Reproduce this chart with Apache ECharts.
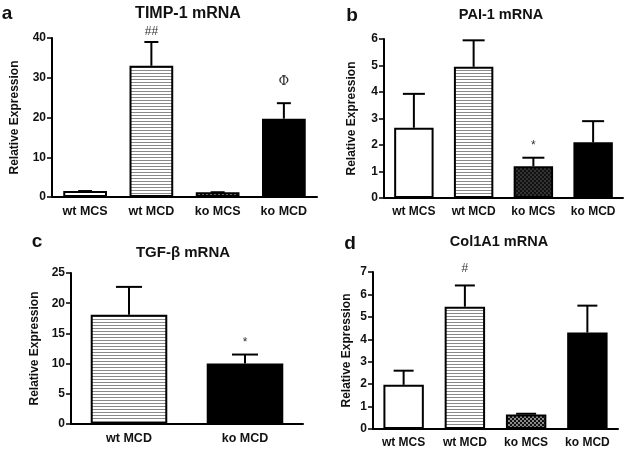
<!DOCTYPE html>
<html><head><meta charset="utf-8">
<script src="https://cdn.jsdelivr.net/npm/echarts@6/dist/echarts.min.js"></script>
<style>html,body{margin:0;padding:0;background:#fff}#c{width:629px;height:457px}</style>
</head><body><div id="c"></div>
<script>
// ---- data ----
var catsA = ['wt MCS', 'wt MCD', 'ko MCS', 'ko MCD'];
var valsA = [1.5, 33, 1.2, 19.7];
var errA  = [1.5, 39, 1.2, 23.6];
var noteA = ['', '##', '', 'Φ'];

var catsB = ['wt MCS', 'wt MCD', 'ko MCS', 'ko MCD'];
var valsB = [2.65, 4.95, 1.2, 2.1];
var errB  = [3.93, 5.95, 1.52, 2.9];
var noteB = ['', '', '*', ''];

var catsC = ['wt MCD', 'ko MCD'];
var valsC = [18.1, 10.0];
var errC  = [22.7, 11.5];
var noteC = ['', '*'];

var catsD = ['wt MCS', 'wt MCD', 'ko MCS', 'ko MCD'];
var valsD = [1.97, 5.45, 0.65, 4.3];
var errD  = [2.6, 6.4, 0.68, 5.5];
var noteD = ['', '#', '', ''];

var titles = ['TIMP-1 mRNA', 'PAI-1 mRNA', 'TGF-β mRNA', 'Col1A1 mRNA'];
var letters = ['a', 'b', 'c', 'd'];
var yMax = [40, 6, 25, 7];
var yInt = [10, 1, 5, 1];

// ---- patterns ----
function stripes() {
  var c = document.createElement('canvas'); c.width = 4; c.height = 3;
  var g = c.getContext('2d'); g.fillStyle = '#fff'; g.fillRect(0, 0, 4, 3);
  g.fillStyle = '#8a8a8a'; g.fillRect(0, 1, 4, 1);
  return { image: c, repeat: 'repeat' };
}
function checker(a, b) {
  var c = document.createElement('canvas'); c.width = 4; c.height = 4;
  var g = c.getContext('2d'); g.fillStyle = a; g.fillRect(0, 0, 4, 4);
  g.fillStyle = b; g.fillRect(0, 0, 2, 2); g.fillRect(2, 2, 2, 2);
  return { image: c, repeat: 'repeat' };
}
function fillFor(cat, panel) {
  if (cat === 'wt MCS') return '#ffffff';
  if (cat === 'wt MCD') return stripes();
  if (cat === 'ko MCS') return panel === 1 ? checker('#111', '#333') : checker('#111', '#8a8a8a');
  return '#000000';
}

// ---- layout (styles/positions) ----
var grids = [
  { left: 52, top: 38, width: 265, height: 159 },
  { left: 384, top: 39, width: 239, height: 159 },
  { left: 71, top: 273, width: 232, height: 151 },
  { left: 373, top: 272, width: 245, height: 157 }
];
var titlePos = [[188, 14], [501, 15], [183, 253], [499, 242]];
var titleSize = [16, 14.5, 15, 14.5];
var letterPos = [[7, 14], [352, 16], [37, 242], [350, 244]];
var yNamePos = [15, 352, 35, 347];
var capHalf = [7, 11, 13, 10];
var noteGap = [[0, 4, 0, 15], [0, 0, 6, 0], [0, 6], [0, 11, 0, 0]];
var catFont = [12.5, 12, 12.5, 12];

var cats = [catsA, catsB, catsC, catsD];
var vals = [valsA, valsB, valsC, valsD];
var errs = [errA, errB, errC, errD];
var notes = [noteA, noteB, noteC, noteD];

var option = { animation: false, backgroundColor: '#fff', grid: [], xAxis: [], yAxis: [], series: [], graphic: [] };
var fontF = '"Liberation Sans", Arial, sans-serif';

for (var p = 0; p < 4; p++) {
  option.grid.push(grids[p]);
  option.xAxis.push({
    type: 'category', gridIndex: p, data: cats[p],
    axisLine: { lineStyle: { color: '#000', width: 2 } },
    axisTick: { alignWithLabel: true, length: 5, lineStyle: { color: '#000', width: 1.5 } },
    axisLabel: { interval: 0, hideOverlap: false, color: '#111', fontWeight: 'bold', fontSize: catFont[p], fontFamily: fontF, margin: 8 }
  });
  option.yAxis.push({
    type: 'value', gridIndex: p, min: 0, max: yMax[p], interval: yInt[p],
    splitLine: { show: false },
    axisLine: { show: true, lineStyle: { color: '#000', width: 2 } },
    axisTick: { show: true, length: 5, lineStyle: { color: '#000', width: 1.5 } },
    axisLabel: { color: '#111', fontWeight: 'bold', fontSize: 12, fontFamily: fontF, margin: 6 }
  });
  option.series.push({
    type: 'bar', xAxisIndex: p, yAxisIndex: p, barWidth: '66%',
    data: vals[p].map(function (v, i) {
      return { value: v, itemStyle: { color: fillFor(cats[p][i], p), borderColor: '#000', borderWidth: 2 } };
    }),
    z: 2
  });
  (function (p) {
    option.series.push({
      type: 'custom', xAxisIndex: p, yAxisIndex: p, z: 3,
      data: vals[p].map(function (v, i) { return [i, v, errs[p][i]]; }),
      renderItem: function (params, api) {
        var i = api.value(0);
        var b = api.coord([i, api.value(1)]);
        var t = api.coord([i, api.value(2)]);
        var ch = capHalf[p];
        var ls = { stroke: '#000', lineWidth: 2 };
        var children = [
          { type: 'line', shape: { x1: b[0], y1: b[1], x2: t[0], y2: t[1] }, style: ls },
          { type: 'line', shape: { x1: t[0] - ch, y1: t[1], x2: t[0] + ch, y2: t[1] }, style: ls }
        ];
        var note = notes[p][params.dataIndex];
        if (note) {
          children.push({
            type: 'text',
            style: {
              text: note, x: t[0], y: t[1] - noteGap[p][params.dataIndex],
              align: 'center', verticalAlign: 'bottom',
              fill: '#333', font: (note === 'Φ' ? '13px "DejaVu Serif", serif' : '12px "Liberation Sans", Arial, sans-serif')
            }
          });
        }
        return { type: 'group', children: children };
      }
    });
  })(p);
  option.graphic.push({
    type: 'text', x: titlePos[p][0], y: titlePos[p][1],
    style: { text: titles[p], fill: '#111', font: 'bold ' + titleSize[p] + 'px ' + fontF, align: 'center', verticalAlign: 'middle' }
  });
  option.graphic.push({
    type: 'text', x: letterPos[p][0], y: letterPos[p][1],
    style: { text: letters[p], fill: '#111', font: 'bold 19px ' + fontF, align: 'center', verticalAlign: 'middle' }
  });
  option.graphic.push({
    type: 'text', x: yNamePos[p], y: grids[p].top + grids[p].height / 2, rotation: Math.PI / 2,
    style: { text: 'Relative Expression', fill: '#111', font: 'bold 12px ' + fontF, align: 'center', verticalAlign: 'middle' }
  });
}

var chart = echarts.init(document.getElementById('c'), null, { renderer: 'canvas' });
chart.setOption(option);
</script>
</body></html>
